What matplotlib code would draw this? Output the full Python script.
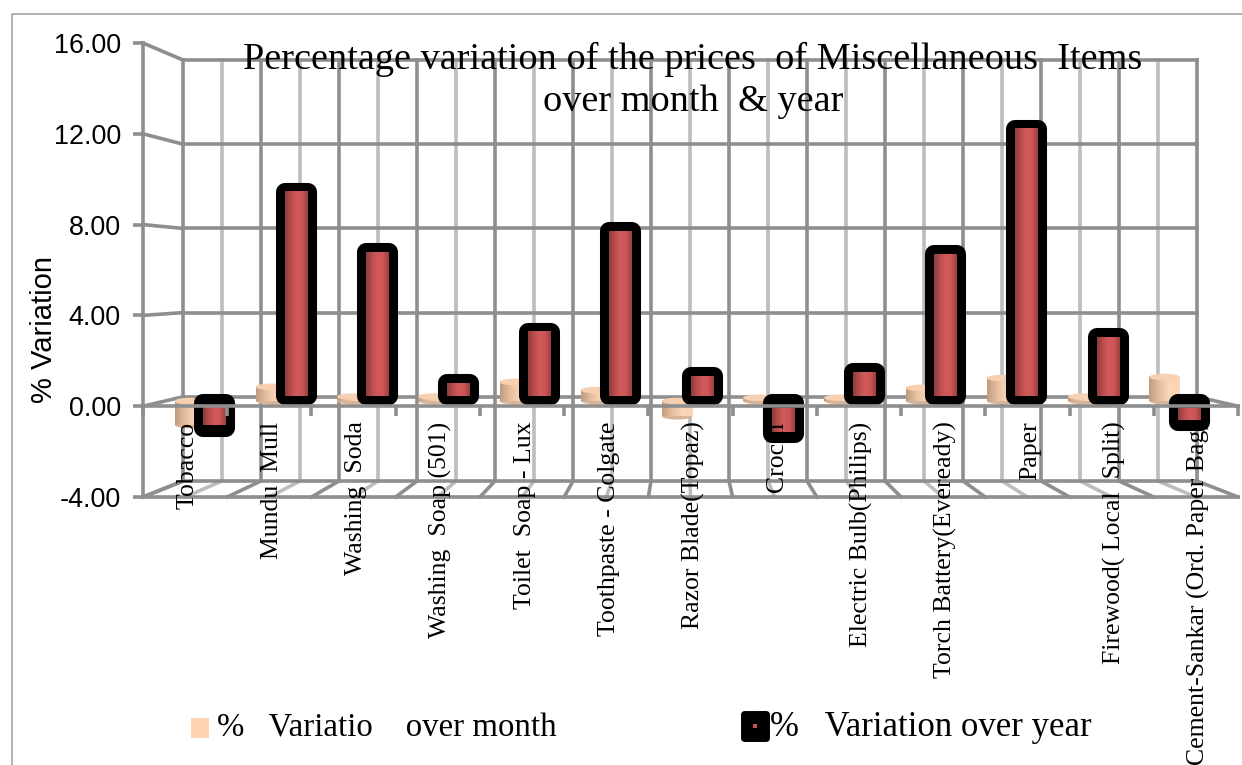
import matplotlib
matplotlib.use('Agg')
import matplotlib.pyplot as plt
from matplotlib.colors import LinearSegmentedColormap
from matplotlib.lines import Line2D
from matplotlib.patches import Ellipse, Rectangle
import numpy as np

items = ['Tobacco', 'Mundu  Mull', 'Washing  Soda', 'Washing  Soap (501)', 'Toilet  Soap - Lux',
         'Toothpaste - Colgate', 'Razor Blade(Topaz)', 'Crocin', 'Electric Bulb(Philips)',
         'Torch Battery(Eveready)', 'Paper', 'Firewood( Local  Split)', 'Cement-Sankar (Ord. Paper Bag)']
over_month = [-1.1, 0.65, 0.2, 0.2, 0.87, 0.5, -0.7, 0.15, 0.15, 0.6, 1.05, 0.2, 1.1]
over_year = [-1.4, 9.8, 7.05, 1.05, 3.4, 8.0, 1.37, -1.7, 1.55, 6.95, 12.7, 3.15, -1.15]
y_ticks = [-4, 0, 4, 8, 12, 16]
y_tick_labels = ['-4.00', '0.00', '4.00', '8.00', '12.00', '16.00']

W, H = 1242, 765
DARK = '#8e8e8e'
LIGHT = '#bdbdbd'
LW = 2.6
SERIF = 'Liberation Serif'
SANS = 'Liberation Sans'

fig = plt.figure(figsize=(W / 100, H / 100), dpi=100, facecolor='white')

# three planes of the fake 3d box: back wall, plane of the bars, front edge
def plane(x0, x1, ytop, ybot, z):
    ax = fig.add_axes([x0 / W, 1 - ybot / H, (x1 - x0) / W, (ybot - ytop) / H], zorder=z)
    ax.set_xlim(0, 13)
    ax.set_ylim(-4, 16)
    ax.patch.set_alpha(0)
    return ax

back = plane(183, 1197, 60, 481, 1)
mid = plane(163, 1218.6, 51.4, 488.4, 2)
front = plane(143, 1238, 43, 497, 3)

for k in range(27):
    col = DARK if k % 2 == 0 else LIGHT
    back.axvline(k / 2, color=col, lw=LW, clip_on=False)
for v in y_ticks:
    back.axhline(v, color=DARK, lw=LW, clip_on=False)
back.axis('off')

# joins between back wall and front edge
def join(x, v, col):
    p0 = back.transData.transform((x, v))
    p1 = front.transData.transform((x, v))
    fig.add_artist(Line2D([p0[0], p1[0]], [p0[1], p1[1]], transform=None, color=col, lw=LW, zorder=0))

for k in range(27):
    join(k / 2, -4, DARK if k % 2 == 0 else LIGHT)
for v in y_ticks:
    join(0, v, DARK)
join(13, 0, DARK)

# bars
red = LinearSegmentedColormap.from_list('red', ['#8c3c3c', '#b84c4c', '#d25a5a', '#cc5656', '#9c4040'])
tan = LinearSegmentedColormap.from_list('tan', ['#c09c80', '#e6c0a0', '#fdd8b8', '#fad4b4'])
ramp = np.linspace(0, 1, 64).reshape(1, -1)

for k in range(len(items)):
    c = k + 0.33
    w = 0.37
    v = over_month[k]
    mid.imshow(ramp, cmap=tan, extent=(c - w / 2, c + w / 2, min(v, 0), max(v, 0)), aspect='auto', zorder=3, interpolation='bilinear')
    mid.add_patch(Ellipse((c, min(v, 0)), w, 0.3, facecolor='#d8b498', edgecolor='none', zorder=2))
    mid.add_patch(Ellipse((c, max(v, 0)), w, 0.3, facecolor='#f6d0b0', edgecolor='none', zorder=4))

    c = k + 0.64
    w = 0.283
    v = over_year[k]
    if v > 0:
        y0, y1 = 0.23, v - 0.23
        b0, b1 = y0, y1
    else:
        y0, y1 = -0.32, v + 0.3
        b0, b1 = -0.09, v + 0.18
    mid.add_patch(Rectangle((c - w / 2, b0), w, b1 - b0, facecolor='black', edgecolor='black', lw=13, joinstyle='round', zorder=5))
    mid.imshow(ramp, cmap=red, extent=(c - w / 2, c + w / 2, min(y0, y1), max(y0, y1)), aspect='auto', zorder=6, interpolation='bilinear')

mid.set_xlim(0, 13)
mid.set_ylim(-4, 16)
mid.axis('off')

# front edge carries the real axis ticks and labels
for s in ['top', 'right']:
    front.spines[s].set_visible(False)
front.set_axisbelow(False)
front.spines['left'].set_color(DARK)
front.spines['left'].set_linewidth(LW)
front.spines['bottom'].set_color(DARK)
front.spines['bottom'].set_linewidth(LW)
front.spines['bottom'].set_position(('data', 0))
front.axhline(-4, color=DARK, lw=LW, clip_on=False)
front.set_yticks(y_ticks)
front.set_yticklabels(y_tick_labels, fontsize=19.4, family=SANS)
front.tick_params(axis='y', length=7, width=LW, color=DARK, pad=9)
front.set_xticks(range(14))
front.set_xticklabels([])
front.set_xticks(np.arange(13) + 0.53, minor=True)
front.set_xticklabels(items, minor=True, rotation=90, fontsize=18.5, family=SERIF, va='top', ha='center')
front.tick_params(axis='x', which='major', length=7, width=LW, color=DARK)
front.tick_params(axis='x', which='minor', length=0, pad=11)
front.set_ylabel('% Variation', fontsize=21, family=SANS)
front.yaxis.set_label_coords(-0.078, 0.368)

# outer frame, only top and left show in the scan
fig.add_artist(Line2D([12 / W, 12 / W, 1], [0, 1 - 14 / H, 1 - 14 / H], color='#a6a6a6', lw=1.2))

fig.text(693 / W, 1 - 59 / H, 'Percentage variation of the prices  of Miscellaneous  Items', ha='center', va='center',
         fontsize=27.5, family=SERIF, zorder=10)
fig.text(693 / W, 1 - 102 / H, 'over month  & year', ha='center', va='center', fontsize=27.5, family=SERIF, zorder=10)

# legend
fig.add_artist(Rectangle((191 / W, 1 - 738 / H), 18 / W, 20 / H, transform=fig.transFigure, facecolor='#fdd5b4', edgecolor='none'))
fig.add_artist(Rectangle((744 / W, 1 - 738 / H), 22 / W, 24 / H, transform=fig.transFigure, facecolor='black', edgecolor='black', lw=5, joinstyle='round'))
fig.add_artist(Rectangle((753 / W, 1 - 728 / H), 4 / W, 4 / H, transform=fig.transFigure, facecolor='#c85050', edgecolor='none'))
fig.text(217 / W, 1 - 728 / H, '%   Variatio    over month', va='center', fontsize=23.7, family=SERIF)
fig.text(770 / W, 1 - 728 / H, '%   Variation over year', va='center', fontsize=25, family=SERIF)

fig.savefig('out.png', dpi=100)
